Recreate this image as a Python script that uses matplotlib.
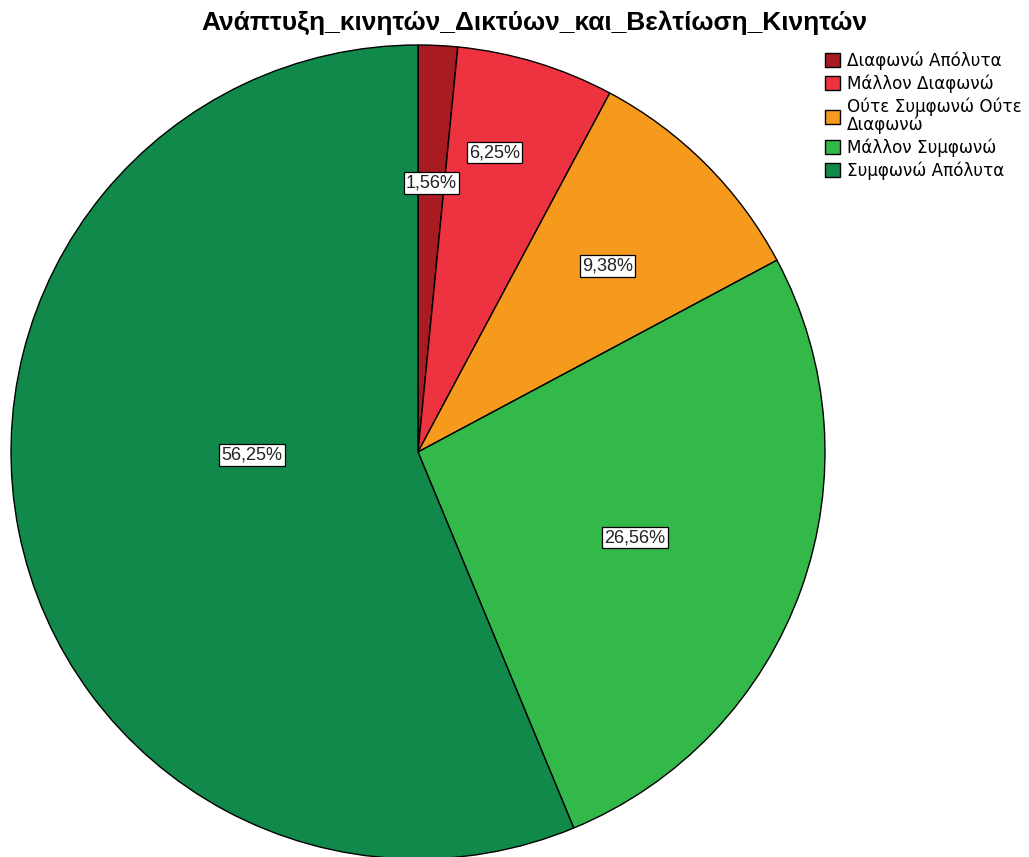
import numpy as np
import matplotlib
matplotlib.use("Agg")
import matplotlib.pyplot as plt

plt.rcParams['font.family'] = ['Liberation Sans', 'DejaVu Sans']

title = "Ανάπτυξη_κινητών_Δικτύων_και_Βελτίωση_Κινητών"
categories = ["Διαφωνώ Απόλυτα", "Μάλλον Διαφωνώ", "Ούτε Συμφωνώ Ούτε\nΔιαφωνώ",
              "Μάλλον Συμφωνώ", "Συμφωνώ Απόλυτα"]
percents = [1.56, 6.25, 9.38, 26.56, 56.25]
colors = ["#A81B20", "#EE3340", "#F69A1E", "#33B84A", "#11894A"]
# where the percent boxes sit: fraction of radius, angle nudge (deg)
label_radius = [0.662, 0.759, 0.652, 0.573, 0.408]
label_shift = [0.0, 2.5, -0.5, -1.9, -10.2]

fig = plt.figure(figsize=(10.29, 8.57), dpi=100)
ax = fig.add_axes([11 / 1029, -2 / 857, 814 / 1029, 814 / 857])

wedges, _ = ax.pie(percents, colors=colors, startangle=90, counterclock=False,
                   radius=1.0, wedgeprops=dict(edgecolor='black', linewidth=1.0))
ax.set_xlim(-1, 1)
ax.set_ylim(-1, 1)
ax.set_aspect('equal')
ax.axis('off')

for w, p, r, s in zip(wedges, percents, label_radius, label_shift):
    ang = np.deg2rad((w.theta1 + w.theta2) / 2 + s)
    ax.text(r * np.cos(ang), r * np.sin(ang), f"{p:.2f}%".replace('.', ','),
            ha='center', va='center', fontsize=13, color='#222222',
            bbox=dict(boxstyle='square,pad=0.12', facecolor='white',
                      edgecolor='black', linewidth=0.9))

fig.text(534 / 1029, 1 - 23 / 857, title, ha='center', va='center',
         fontsize=19, fontweight='bold')

leg = fig.legend(wedges, categories, loc='upper left',
                 bbox_to_anchor=(825 / 1029, 1 - 51 / 857), frameon=False,
                 prop=dict(family='DejaVu Sans', size=12.1),
                 handlelength=0.92, handleheight=0.92,
                 handletextpad=0.4, labelspacing=0.28, borderaxespad=0,
                 borderpad=0)
for t in leg.get_texts():
    t.set_linespacing(0.95)

fig.savefig("out.png", dpi=100, facecolor='white')
